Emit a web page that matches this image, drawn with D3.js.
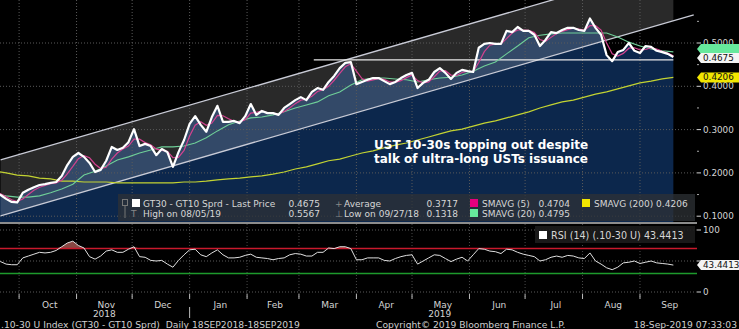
<!DOCTYPE html>
<html>
<head>
<meta charset="utf-8">
<script src="https://cdn.jsdelivr.net/npm/d3@7"></script>
<style>
  body { margin: 0; background: #000; }
  svg { display: block; font-family: "DejaVu Sans", sans-serif; }
</style>
</head>
<body>
<div id="container"></div>
<script>
let w = 739;
let h = 329;

// daily spread read every 3 calendar days from 18 Sep 2018
let startDate = new Date(2018, 8, 18);
let fastStep = 3;
let price = [0.154,0.149,0.140,0.133,0.132,0.154,0.161,0.167,0.172,0.174,
  0.177,0.179,0.193,0.218,0.237,0.246,0.237,0.223,0.202,0.207,
  0.228,0.260,0.253,0.258,0.271,0.301,0.262,0.267,0.262,0.241,
  0.255,0.248,0.214,0.248,0.276,0.313,0.331,0.311,0.295,0.329,
  0.355,0.318,0.318,0.320,0.315,0.331,0.359,0.334,0.343,0.338,
  0.338,0.334,0.350,0.359,0.368,0.375,0.368,0.387,0.396,0.392,
  0.410,0.424,0.442,0.454,0.456,0.405,0.410,0.415,0.419,0.419,
  0.412,0.405,0.410,0.419,0.426,0.431,0.396,0.408,0.415,0.433,
  0.442,0.431,0.417,0.431,0.438,0.435,0.433,0.489,0.498,0.500,
  0.498,0.498,0.528,0.525,0.537,0.528,0.528,0.519,0.493,0.507,
  0.525,0.523,0.530,0.535,0.535,0.530,0.528,0.5567,0.535,0.519,
  0.472,0.458,0.479,0.484,0.500,0.482,0.477,0.493,0.491,0.482,
  0.479,0.475,0.4675];
let sma5 = [0.158,0.152,0.145,0.138,0.134,0.140,0.150,0.160,0.167,0.171,
  0.175,0.177,0.183,0.198,0.215,0.233,0.240,0.235,0.220,0.210,
  0.213,0.232,0.246,0.255,0.262,0.278,0.278,0.270,0.265,0.255,
  0.252,0.250,0.235,0.236,0.252,0.285,0.310,0.318,0.310,0.315,
  0.333,0.332,0.325,0.319,0.318,0.323,0.338,0.340,0.343,0.339,
  0.338,0.336,0.342,0.350,0.360,0.368,0.370,0.377,0.388,0.392,
  0.400,0.414,0.430,0.445,0.452,0.435,0.418,0.412,0.415,0.418,
  0.416,0.410,0.409,0.413,0.420,0.426,0.413,0.408,0.410,0.422,
  0.435,0.436,0.426,0.425,0.432,0.435,0.434,0.455,0.480,0.495,
  0.498,0.498,0.510,0.523,0.530,0.530,0.529,0.524,0.508,0.504,
  0.513,0.522,0.527,0.531,0.534,0.532,0.530,0.540,0.540,0.530,
  0.500,0.475,0.470,0.476,0.488,0.489,0.484,0.485,0.489,0.486,
  0.481,0.477,0.4704];
let rsi = [49,49,45,44,44,55,58,61,64,63,
  64,67,73,79,82,75,71,57,53,58,
  66,68,64,64,69,73,57,56,51,50,
  51,45,40,51,60,68,69,60,57,63,
  68,60,55,55,56,59,61,56,55,54,
  52,54,55,60,62,61,58,58,64,64,
  71,70,73,73,70,52,52,55,55,55,
  51,50,54,57,59,60,45,50,55,60,
  59,54,49,53,56,50,60,70,69,66,
  65,62,69,68,64,61,59,57,50,52,
  56,58,56,59,58,55,54,63,50,45,
  39,36,40,47,48,50,46,48,50,47,
  46,45,43.4413];

// slower averages read every 6 days
let slowStep = 6;
let sma20 = [0.151,0.147,0.144,0.144,0.147,0.154,0.163,0.174,0.195,0.204,
  0.216,0.230,0.237,0.246,0.253,0.260,0.260,0.262,0.269,0.281,
  0.297,0.311,0.320,0.327,0.329,0.334,0.341,0.350,0.357,0.364,
  0.378,0.387,0.403,0.415,0.419,0.419,0.417,0.415,0.410,0.415,
  0.419,0.421,0.426,0.435,0.447,0.456,0.475,0.493,0.512,0.518,
  0.521,0.523,0.523,0.523,0.523,0.523,0.514,0.502,0.493,0.486,
  0.482,0.4795];
let sma200 = [0.204,0.200,0.195,0.193,0.188,0.186,0.181,0.181,0.179,0.179,
  0.179,0.177,0.177,0.177,0.177,0.177,0.177,0.179,0.179,0.181,
  0.184,0.186,0.188,0.191,0.193,0.197,0.202,0.209,0.214,0.221,
  0.228,0.232,0.239,0.246,0.251,0.258,0.264,0.269,0.276,0.283,
  0.290,0.297,0.301,0.308,0.315,0.320,0.327,0.334,0.341,0.350,
  0.357,0.364,0.368,0.375,0.382,0.387,0.394,0.401,0.408,0.412,
  0.417,0.4206];

// drawn trend channel and resistance
let channelLower = [[new Date(2018, 8, 21), 0.101], [new Date(2019, 8, 30), 0.565]];
let channelUpper = [[new Date(2018, 8, 21), 0.230], [new Date(2019, 8, 30), 0.694]];
let resistance = [[new Date(2019, 2, 9), 0.461], [new Date(2019, 8, 19), 0.461]];

let monthNames = ["Oct","Nov","Dec","Jan","Feb","Mar","Apr","May","Jun","Jul","Aug","Sep"];
let yearLabels = [["2018", new Date(2018, 10, 16)], ["2019", new Date(2019, 4, 16)]];
let yTicks = [0.1, 0.2, 0.3, 0.4, 0.5];
let yMinor = [0.15, 0.25, 0.35, 0.45, 0.55];
let rsiTicks = [0, 50, 100];
let rsiLabels = [0, 100];

let viz = d3.select("#container")
  .append("svg")
    .attr("width", w)
    .attr("height", h)
    .style("background-color", "black")
;

let plotRight = 697;
let mainBottom = 222;

let xScale = d3.scaleTime()
  .domain([new Date(2018, 8, 18), new Date(2019, 8, 18)])
  .range([-5, 671.5]);
let yScale = d3.scaleLinear().domain([0.1, 0.5]).range([216.2, 43]);
let rScale = d3.scaleLinear().domain([0, 100]).range([292, 230]);

function fastRows(arr){
  return arr.map((v, i) => ({date: d3.timeDay.offset(startDate, i * fastStep), v: v}));
}
function slowRows(arr){
  return arr.map((v, i) => ({date: d3.timeDay.offset(startDate, i * slowStep), v: v}));
}
let priceData = fastRows(price);
let lastDate = priceData[priceData.length - 1].date;

let defs = viz.append("defs");
defs.append("clipPath").attr("id", "mainClip")
  .append("rect").attr("x", 0).attr("y", 0).attr("width", plotRight).attr("height", mainBottom);
defs.append("clipPath").attr("id", "dataClip")
  .append("rect").attr("x", 0).attr("y", 0).attr("width", xScale(lastDate)).attr("height", mainBottom);
defs.append("clipPath").attr("id", "rsiClip")
  .append("rect").attr("x", 0).attr("y", 224).attr("width", plotRight).attr("height", 73);

let months = d3.timeMonth.range(new Date(2018, 9, 1), new Date(2019, 9, 1));

// ---------- main panel ----------
let main = viz.append("g").attr("clip-path", "url(#mainClip)");

let line = d3.line().x(d => xScale(d.date)).y(d => yScale(d.v));
let area = d3.area().x(d => xScale(d.date)).y0(mainBottom).y1(d => yScale(d.v));

main.append("path")
  .datum(priceData)
  .attr("d", area)
  .attr("fill", "#0c274c");

let chanPts = [channelUpper[0], channelUpper[1], channelLower[1], channelLower[0]]
  .map(p => [xScale(p[0]), yScale(p[1])]);
main.append("g").attr("clip-path", "url(#dataClip)")
  .append("path")
    .attr("d", "M" + chanPts.join("L") + "Z")
    .attr("fill", "white")
    .attr("fill-opacity", 0.16);

// grid
main.selectAll(".vgrid").data(months).enter()
  .append("line")
    .attr("x1", d => xScale(d)).attr("x2", d => xScale(d))
    .attr("y1", 0).attr("y2", mainBottom)
    .attr("stroke", "#5a5a5a").attr("stroke-dasharray", "1,2");
main.selectAll(".hgrid").data(yTicks).enter()
  .append("line")
    .attr("x1", 0).attr("x2", plotRight)
    .attr("y1", d => yScale(d)).attr("y2", d => yScale(d))
    .attr("stroke", "#5a5a5a").attr("stroke-dasharray", "1,2");

let seg = d3.line().x(p => xScale(p[0])).y(p => yScale(p[1]));
[channelUpper, channelLower].forEach(c => {
  main.append("path").attr("d", seg(c))
    .attr("stroke", "#c9cbd6").attr("stroke-width", 1.3).attr("fill", "none");
});
main.append("path").attr("d", seg(resistance))
  .attr("stroke", "#e8e8e8").attr("stroke-width", 1.2).attr("fill", "none");

main.append("path").datum(slowRows(sma200)).attr("d", line)
  .attr("fill", "none").attr("stroke", "#c3d332").attr("stroke-width", 1.2);
main.append("path").datum(slowRows(sma20)).attr("d", line)
  .attr("fill", "none").attr("stroke", "#6fcf98").attr("stroke-width", 1.1);
main.append("path").datum(fastRows(sma5)).attr("d", line)
  .attr("fill", "none").attr("stroke", "#d2428f").attr("stroke-width", 1.2);
main.append("path").datum(priceData).attr("d", line)
  .attr("fill", "none").attr("stroke", "white").attr("stroke-width", 2.2)
  .attr("stroke-linejoin", "round");

// annotation
let note = viz.append("text")
  .attr("x", 374).attr("y", 149)
  .attr("fill", "white").attr("font-weight", "bold").attr("font-size", 12);
note.append("tspan").attr("x", 374).text("UST 10-30s topping out despite");
note.append("tspan").attr("x", 374).attr("dy", 14).text("talk of ultra-long USTs issuance");

// legend
let lg = viz.append("g").attr("font-size", 9).attr("fill", "#d6d6d6");
lg.append("rect").attr("x", 118).attr("y", 194).attr("width", 577).attr("height", 27)
  .attr("fill", "#2e3136").attr("fill-opacity", 0.75);
lg.append("rect").attr("x", 122.5).attr("y", 199.5).attr("width", 5).attr("height", 6)
  .attr("fill", "none").attr("stroke", "#777");
lg.append("line").attr("x1", 125).attr("x2", 125).attr("y1", 206).attr("y2", 218).attr("stroke", "#777");
lg.append("rect").attr("x", 132).attr("y", 199).attr("width", 8).attr("height", 8).attr("fill", "white");
lg.append("text").attr("x", 131).attr("y", 217).attr("fill", "#888").text("T");
lg.append("text").attr("x", 335).attr("y", 206.5).attr("fill", "#888").text("+");
lg.append("text").attr("x", 335).attr("y", 216.5).attr("fill", "#888").text("⊥");

let legendRows = [
  [143, 206.5, "start", "GT30 - GT10 Sprd - Last Price"],
  [320, 206.5, "end", "0.4675"],
  [344, 206.5, "start", "Average"],
  [458, 206.5, "end", "0.3717"],
  [482, 206.5, "start", "SMAVG (5)"],
  [570, 206.5, "end", "0.4704"],
  [594, 206.5, "start", "SMAVG (200) 0.4206"],
  [143, 216.5, "start", "High on 08/05/19"],
  [320, 216.5, "end", "0.5567"],
  [344, 216.5, "start", "Low on 09/27/18"],
  [458, 216.5, "end", "0.1318"],
  [482, 216.5, "start", "SMAVG (20)"],
  [570, 216.5, "end", "0.4795"]
];
lg.selectAll(".lt").data(legendRows).enter()
  .append("text")
    .attr("x", d => d[0]).attr("y", d => d[1])
    .attr("text-anchor", d => d[2])
    .text(d => d[3]);
let swatches = [[470, 199, "#e6007e"], [582, 199, "#f2e600"], [470, 209, "#66e89c"]];
lg.selectAll(".sw").data(swatches).enter()
  .append("rect")
    .attr("x", d => d[0]).attr("y", d => d[1]).attr("width", 8).attr("height", 8)
    .attr("fill", d => d[2]);

// separator
viz.append("rect").attr("x", 0).attr("y", 222).attr("width", plotRight).attr("height", 2).attr("fill", "#8c8c8c");

// right axis
let ax = viz.append("g").attr("font-size", 8.8).attr("fill", "#d4d4d4");
ax.selectAll(".tk").data(yTicks).enter().append("line")
  .attr("x1", plotRight).attr("x2", plotRight + 4)
  .attr("y1", d => yScale(d)).attr("y2", d => yScale(d)).attr("stroke", "#d4d4d4");
ax.selectAll(".mtk").data(yMinor).enter().append("line")
  .attr("x1", plotRight).attr("x2", plotRight + 2)
  .attr("y1", d => yScale(d)).attr("y2", d => yScale(d)).attr("stroke", "#aaa");
ax.selectAll(".tl").data(yTicks).enter().append("text")
  .attr("x", plotRight + 6).attr("y", d => yScale(d) + 3)
  .text(d => d3.format(".4f")(d));

function tag(yPos, label, fill, showText){
  let g = viz.append("g");
  g.append("path")
    .attr("d", "M" + plotRight + "," + yPos + "L" + (plotRight + 4) + "," + (yPos - 5) +
      "L739," + (yPos - 5) + "L739," + (yPos + 5) + "L" + (plotRight + 4) + "," + (yPos + 5) + "Z")
    .attr("fill", fill);
  if (showText) {
    g.append("text").attr("x", plotRight + 6).attr("y", yPos + 3)
      .attr("font-size", 8.8).attr("fill", "#111").text(label);
  }
}
tag(yScale(0.4795) - 3, "0.4795", "#66e89c", false);
tag(yScale(0.4675) + 1, "0.4675", "#f4f4f4", true);
tag(yScale(0.4206), "0.4206", "#f2e600", true);

// ---------- RSI panel ----------
let rp = viz.append("g").attr("clip-path", "url(#rsiClip)");
rp.selectAll(".rv").data(months).enter().append("line")
  .attr("x1", d => xScale(d)).attr("x2", d => xScale(d))
  .attr("y1", 224).attr("y2", 297)
  .attr("stroke", "#4a4a4a").attr("stroke-dasharray", "1,2");
rp.selectAll(".rh").data(rsiTicks).enter().append("line")
  .attr("x1", 0).attr("x2", plotRight)
  .attr("y1", d => rScale(d)).attr("y2", d => rScale(d))
  .attr("stroke", "#5a5a5a").attr("stroke-dasharray", "1,2");

let rsiData = fastRows(rsi);
rp.append("path").datum(rsiData)
  .attr("d", d3.area().x(d => xScale(d.date)).y0(rScale(70)).y1(d => rScale(Math.max(70, d.v))))
  .attr("fill", "#a0534f").attr("fill-opacity", 0.85);
rp.append("line").attr("x1", 0).attr("x2", plotRight)
  .attr("y1", rScale(70)).attr("y2", rScale(70)).attr("stroke", "#c8192c").attr("stroke-width", 1.5);
rp.append("line").attr("x1", 0).attr("x2", plotRight)
  .attr("y1", rScale(30)).attr("y2", rScale(30)).attr("stroke", "#1d9a2c").attr("stroke-width", 1.5);
rp.append("path").datum(rsiData)
  .attr("d", d3.line().x(d => xScale(d.date)).y(d => rScale(d.v)))
  .attr("fill", "none").attr("stroke", "#e0e0e0").attr("stroke-width", 1);

viz.append("rect").attr("x", 535).attr("y", 226).attr("width", 160).attr("height", 17)
  .attr("fill", "#1c1c1c").attr("fill-opacity", 0.9);
viz.append("rect").attr("x", 539).attr("y", 231).attr("width", 8).attr("height", 8).attr("fill", "white");
viz.append("text").attr("x", 551).attr("y", 239).attr("font-size", 9.6).attr("fill", "#d6d6d6")
  .text("RSI (14) (.10-30 U) 43.4413");

ax.selectAll(".rtk").data(rsiTicks).enter().append("line")
  .attr("x1", plotRight).attr("x2", plotRight + 4)
  .attr("y1", d => rScale(d)).attr("y2", d => rScale(d)).attr("stroke", "#d4d4d4");
ax.selectAll(".rtl").data(rsiLabels).enter().append("text")
  .attr("x", plotRight + 6).attr("y", d => rScale(d) + 3)
  .text(d => d);
tag(rScale(43.4413), "43.4413", "#f4f4f4", true);

// ---------- x axis ----------
let xa = viz.append("g").attr("font-size", 9).attr("fill", "#d4d4d4");
xa.selectAll(".xt").data(months).enter().append("line")
  .attr("x1", d => xScale(d)).attr("x2", d => xScale(d))
  .attr("y1", 294).attr("y2", 299).attr("stroke", "#bbb");
xa.selectAll(".ml").data(months).enter().append("text")
  .attr("x", d => (xScale(d) + xScale(d3.timeMonth.offset(d, 1))) / 2 + 2)
  .attr("y", 307.5)
  .attr("text-anchor", "middle")
  .text((d, i) => monthNames[i]);
xa.selectAll(".yl").data(yearLabels).enter().append("text")
  .attr("x", d => xScale(d[1])).attr("y", 317)
  .attr("text-anchor", "middle")
  .text(d => d[0]);
xa.append("line")
  .attr("x1", xScale(new Date(2019, 0, 1))).attr("x2", xScale(new Date(2019, 0, 1)))
  .attr("y1", 307).attr("y2", 318).attr("stroke", "#bbb");

let foot = viz.append("g").attr("font-size", 9.2).attr("fill", "#cfcfcf");
foot.append("text").attr("x", 1).attr("y", 327.5)
  .text(".10-30 U Index (GT30 - GT10 Sprd)  Daily 18SEP2018-18SEP2019").attr("xml:space", "preserve");
foot.append("text").attr("x", 376).attr("y", 327.5).text("Copyright© 2019 Bloomberg Finance L.P.");
foot.append("text").attr("x", 737).attr("y", 327.5).attr("text-anchor", "end").text("18-Sep-2019 07:33:03");
</script>
</body>
</html>
